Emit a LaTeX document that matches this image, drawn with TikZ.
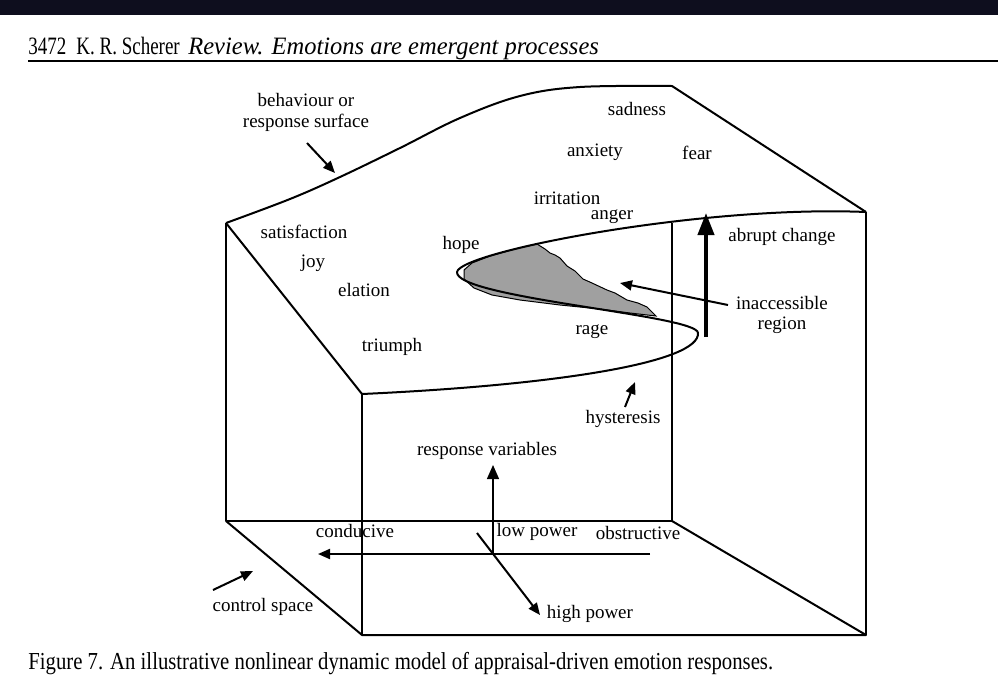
\documentclass[tikz,border=0pt]{standalone}
\usepackage{fontspec}
\setmainfont{Liberation Serif}
\newfontfamily\pagefont[FakeStretch=0.85]{Liberation Serif}
\newfontfamily\headfont[FakeStretch=0.76]{Liberation Serif}
\newfontfamily\runfont[FakeStretch=0.98]{Liberation Serif}
\usetikzlibrary{arrows.meta}
\definecolor{bandnavy}{RGB}{14,14,30}
\definecolor{regiongray}{RGB}{160,160,160}
\tikzset{
	lbl/.style={font=\fontsize{9.5}{11}\selectfont, inner sep=0pt},
	edge/.style={line width=1pt, line join=round},
	pointer/.style={line width=1pt, -{Triangle[length=6pt,width=5pt]}},
	runhead/.style={anchor=base west, inner sep=0pt},
}
\begin{document}
\begin{tikzpicture}[x=0.5pt,y=-0.5pt]
		\useasboundingbox (0,0) rectangle (998,692);
		% page header
		\fill[bandnavy] (0,0) rectangle (998,15);
		\node[runhead,font=\headfont\fontsize{12.5}{14}\selectfont] (pagenum) at (28,54) {3472};
		\node[runhead,font=\headfont\fontsize{12.5}{14}\selectfont] (author) at (76,54) {K. R. Scherer};
		\node[runhead,font=\runfont\itshape\fontsize{12.5}{14}\selectfont] (title) at (188,54) {Review. Emotions are emergent processes};
		\draw[line width=0.8pt] (28,61) -- (998,61);
		% corners of the box
		\coordinate (surfL) at (226,223);
		\coordinate (surfF) at (362,394);
		\coordinate (surfR) at (866,212);
		\coordinate (backT) at (672,86);
		\coordinate (backV) at (672,223);
		\coordinate (baseL) at (226,521);
		\coordinate (baseR) at (672,521);
		\coordinate (frontL) at (362,635);
		\coordinate (frontR) at (866,635);
		% inaccessible region
		\filldraw[fill=regiongray, line width=0.5pt] (537,244) -- (545,249) -- (550,253) -- (555,255) -- (560,258)
			-- (567,266) -- (575,271) -- (583,279) -- (592,283) -- (607,290) -- (615,293) -- (627,300)
			-- (638,303) -- (647,307) -- (652,312) -- (656,316) -- (630,313) -- (600,309) -- (560,305)
			-- (520,300) -- (492,295) -- (474,288) -- (464,279) -- (464,270) -- (472,263) -- (490,256)
			-- (515,249) -- cycle;
		% box edges
		\draw[edge] (surfL) -- (baseL) -- (baseR) -- (backV);
		\draw[edge] (baseL) -- (frontL) -- (frontR) -- (baseR);
		\draw[edge] (surfF) -- (frontL);
		\draw[edge] (surfR) -- (frontR);
		\draw[edge] (surfF) -- (surfL);
		% response surface
		\draw[edge] (surfL) plot[smooth,tension=0.6] coordinates {(226,223) (290,199) (340,177) (400,148) (460,118) (520,96) (580,87) (672,86)} -- (surfR);
		\draw[edge] (surfF) .. controls (560,385) and (700,362) .. (698,333)
			.. controls (698,315) and (455,298) .. (457,272)
			.. controls (460,252) and (700,205) .. (surfR);
		% labels
		\node[lbl] (behav) at (306,100) {behaviour or};
		\node[lbl] (surface) at (306,123) {response surface};
		\node[lbl] (sadness) at (637,109) {sadness};
		\node[lbl] (anxiety) at (595,152) {anxiety};
		\node[lbl] (fear) at (697,153) {fear};
		\node[lbl] (irritation) at (567,198) {irritation};
		\node[lbl] (anger) at (612,217) {anger};
		\node[lbl] (satisfaction) at (304,232) {satisfaction};
		\node[lbl] (joy) at (313,263) {joy};
		\node[lbl] (elation) at (364,290) {elation};
		\node[lbl] (triumph) at (392,347) {triumph};
		\node[lbl] (hope) at (461,245) {hope};
		\node[lbl] (rage) at (592,332) {rage};
		\node[lbl] (abrupt) at (782,237) {abrupt change};
		\node[lbl] (inacc) at (782,303) {inaccessible};
		\node[lbl] (region) at (782,325) {region};
		\node[lbl] (hyst) at (623,419) {hysteresis};
		\node[lbl] (respvar) at (487,451) {response variables};
		\node[lbl] (conducive) at (355,531) {conducive};
		\node[lbl] (lowpow) at (537,532) {low power};
		\node[lbl] (obstr) at (638,533) {obstructive};
		\node[lbl] (control) at (263,607) {control space};
		\node[lbl] (highpow) at (590,614) {high power};
		% arrow ends
		\coordinate (behavtail) at (307,143);
		\coordinate (behavtip) at (335,173);
		\coordinate (abrupttail) at (706,337);
		\coordinate (abrupttip) at (706,213);
		\coordinate (inacctail) at (728,305);
		\coordinate (inacctip) at (620,283);
		\coordinate (hysttail) at (625,407);
		\coordinate (hysttip) at (635,382);
		\coordinate (resptail) at (493,554);
		\coordinate (resptip) at (493,465);
		\coordinate (condtail) at (650,554);
		\coordinate (condtip) at (318,554);
		\coordinate (powtail) at (477,533);
		\coordinate (powtip) at (540,615);
		\coordinate (ctrltail) at (213,590);
		\coordinate (ctrltip) at (253,571);
		% arrows
		\draw[pointer] (behavtail) -- (behavtip);
		\draw[line width=2pt, -{Triangle[length=11pt,width=8pt]}] (abrupttail) -- (abrupttip);
		\draw[pointer] (inacctail) -- (inacctip);
		\draw[pointer] (hysttail) -- (hysttip);
		\draw[line width=0.7pt, -{Triangle[length=7pt,width=6pt]}] (resptail) -- (resptip);
		\draw[pointer] (condtail) -- (condtip);
		\draw[pointer] (powtail) -- (powtip);
		\draw[pointer] (ctrltail) -- (ctrltip);
		% caption
		\node[anchor=west,inner sep=0pt,font=\pagefont\fontsize{12.2}{14}\selectfont] (caption) at (28,664) {Figure 7. An illustrative nonlinear dynamic model of appraisal-driven emotion responses.};
\end{tikzpicture}
\end{document}
